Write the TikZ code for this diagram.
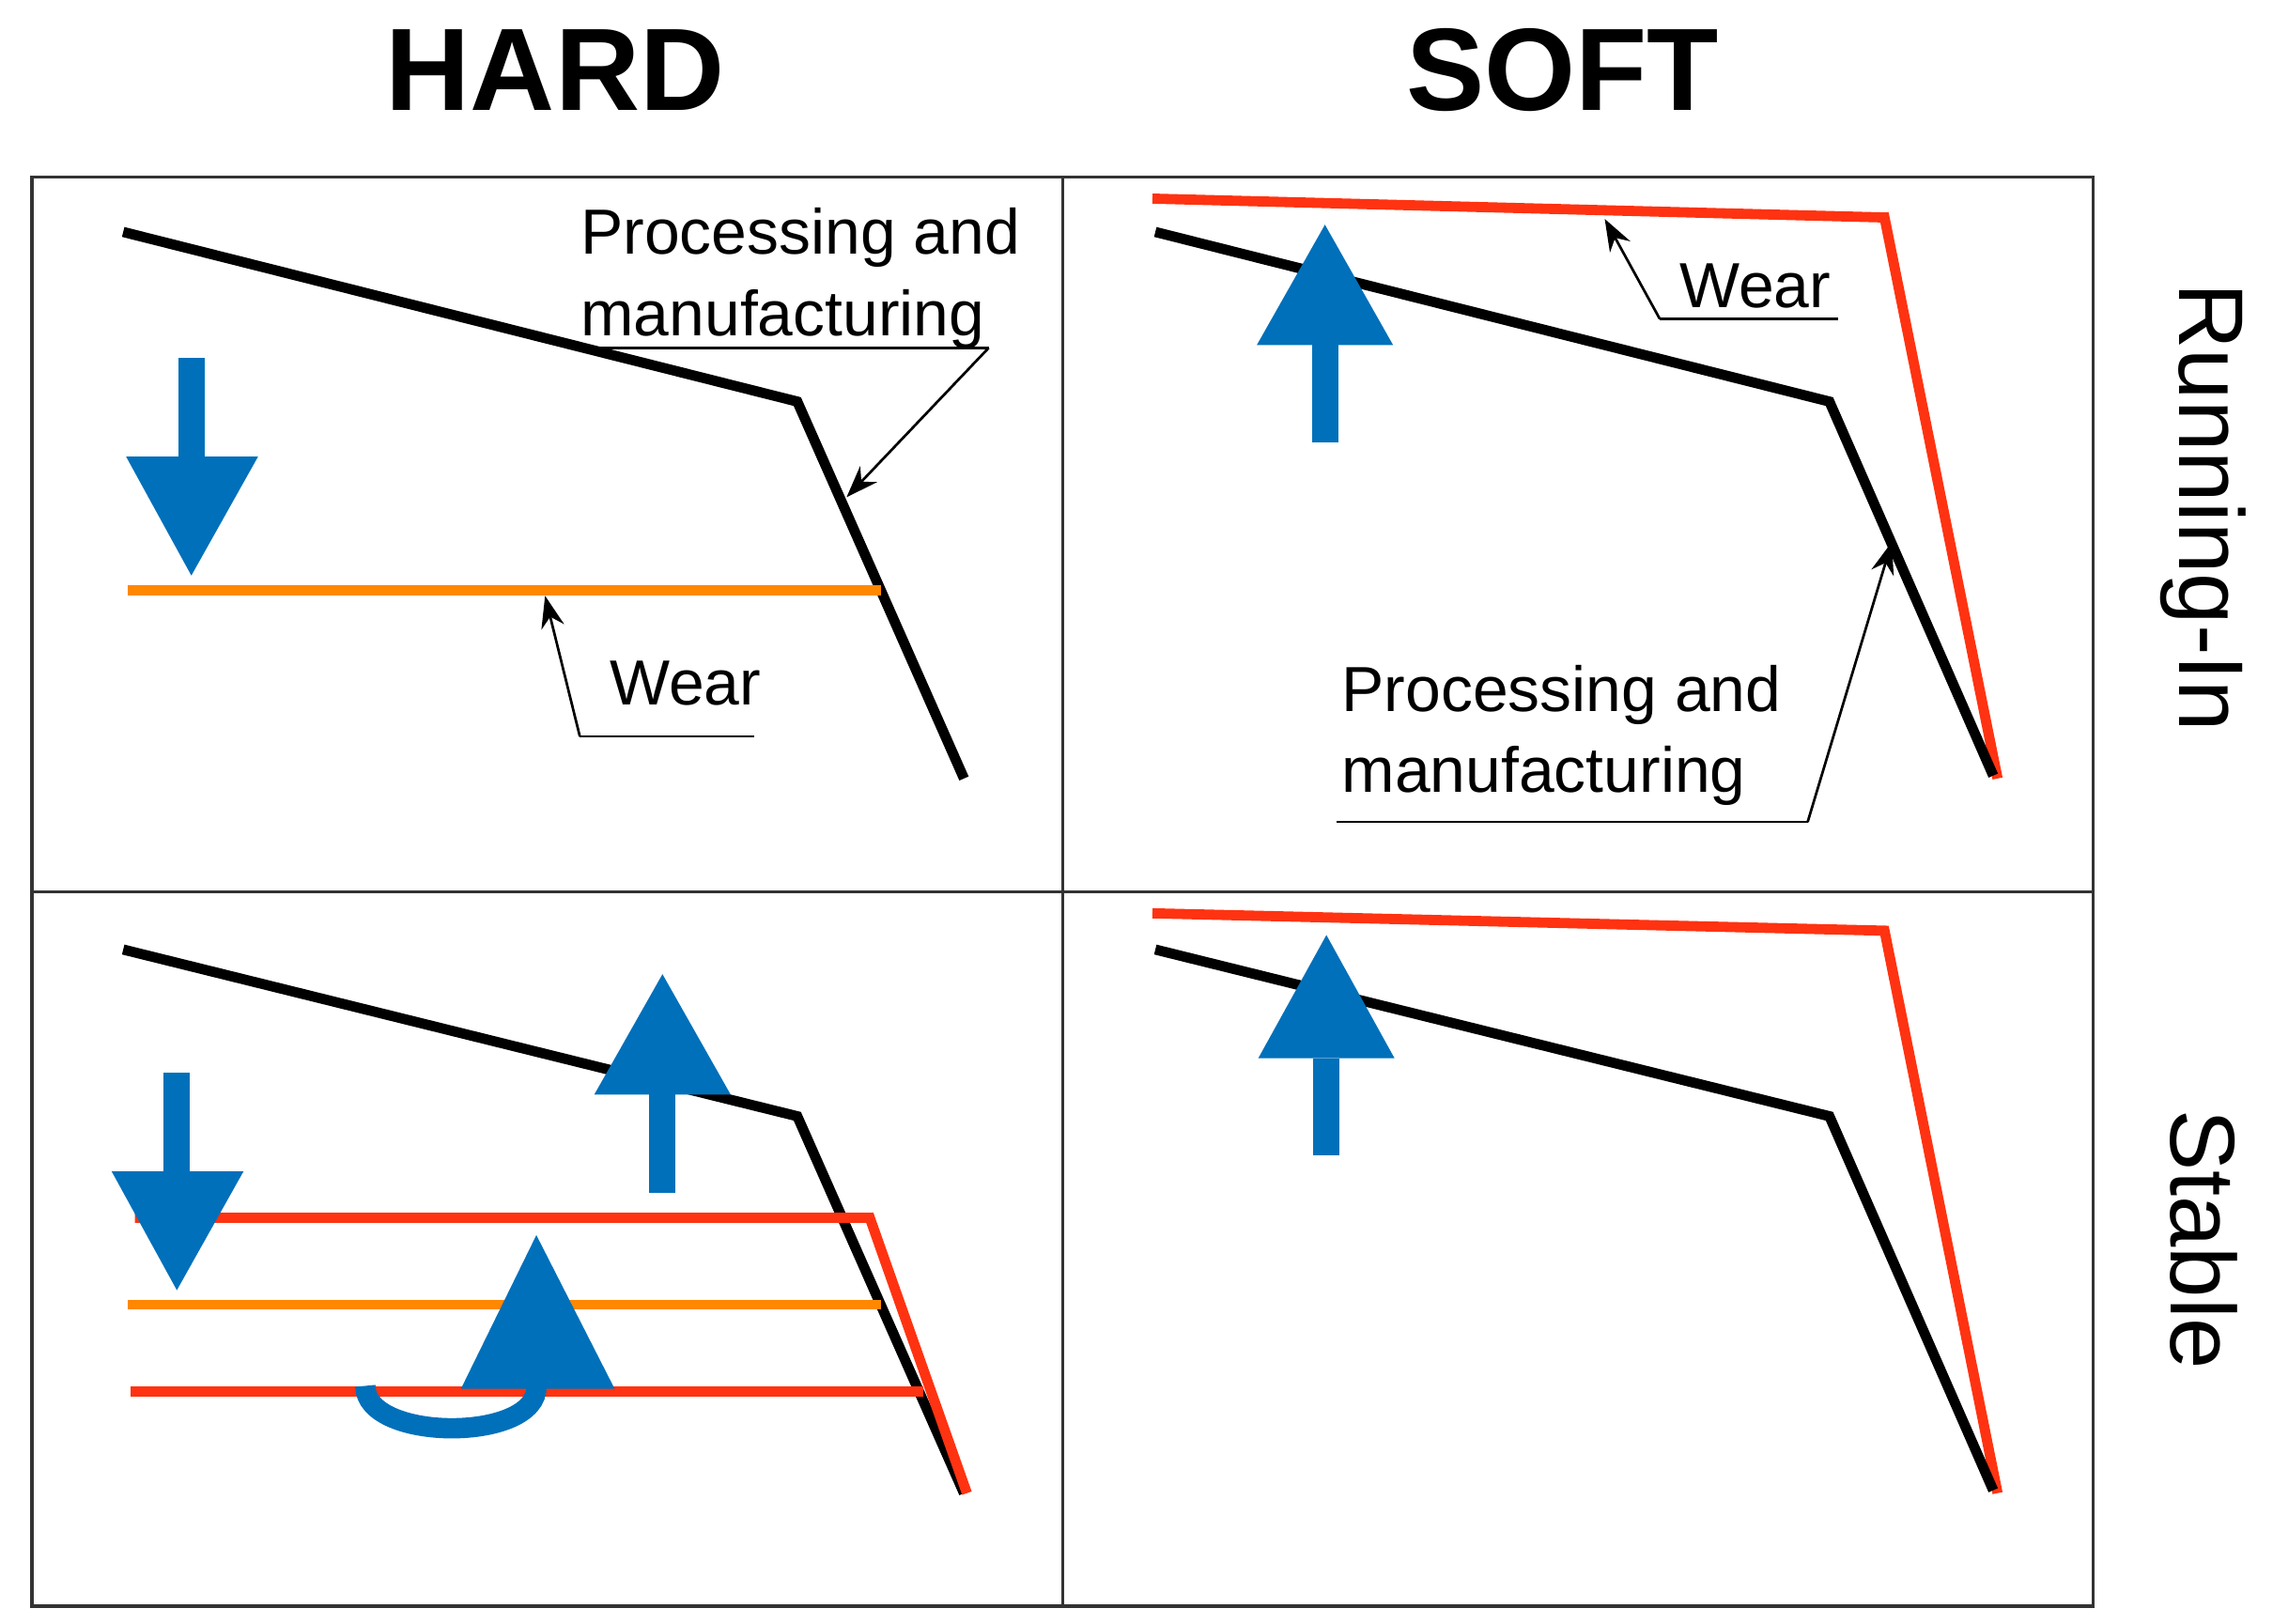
\documentclass[tikz,border=0pt]{standalone}
\usepackage{fontspec}
\setmainfont{Liberation Sans}
\usetikzlibrary{positioning,arrows.meta}
\definecolor{arrowblue}{HTML}{0070BA}
\definecolor{wearred}{HTML}{FF3311}
\definecolor{wearorange}{HTML}{FF8800}
\newcommand{\bigup}[4]{% x, head base y, tip y, shaft end y
\fill[arrowblue] (#1-47,#2) -- (#1+47,#2) -- (#1,#3) -- cycle;
\draw[arrowblue,line width=0.18cm] (#1,#2) -- (#1,#4);}
\begin{document}
\begin{tikzpicture}[x=0.01cm,y=-0.01cm,
profile/.style={line width=0.07cm,line join=miter},
grid/.style={line width=0.6pt,draw=black!80},
leader/.style={line width=0.5pt,-{Stealth[length=2.2mm,width=1.6mm]}},
label/.style={font=\fontsize{12.5}{16}\selectfont,align=left,anchor=north west,inner sep=0pt},
title/.style={font=\fontsize{23}{26}\selectfont\bfseries},
side/.style={font=\fontsize{18}{20}\selectfont,rotate=-90}
]
\useasboundingbox (0,0) rectangle (1568,1120);
% Titles
\node[title] (hard) at (383,48) {HARD};
\node[title] (soft) at (1078,48) {SOFT};
\node[side] (run) at (1520,350) {Running-In};
\node[side] (stab) at (1520,855) {Stable};
% Grid
\draw[grid] (22,122) rectangle (1444,1108);
\draw[grid] (733,122) -- (733,1108);
\draw[grid] (22,615) -- (1444,615);
% Hard, running-in
\draw[profile] (85,160) -- (550,277) -- (665,537);
\draw[profile,wearorange] (88,407) -- (608,407);
\fill[arrowblue] (87,315) -- (178,315) -- (132,397) -- cycle;
\draw[arrowblue,line width=0.18cm] (132,247) -- (132,315);
\node[label] (pm1) at (400,143) {Processing and\\manufacturing};
\coordinate (pm1u) at (682,240);
\coordinate (pm1t) at (584,343);
\draw[line width=0.5pt] (400,240) -- (pm1u);
\draw[leader] (pm1u) -- (pm1t);
\node[label] (w1) at (420,455) {Wear};
\coordinate (w1u) at (400,508);
\coordinate (w1t) at (376,411);
\draw[line width=0.5pt] (520,508) -- (w1u);
\draw[leader] (w1u) -- (w1t);
% Soft, running-in
\draw[profile,wearred] (795,137) -- (1300,150) -- (1378,537);
\draw[profile] (797,160) -- (1262,277) -- (1375,535);
\bigup{914}{238}{155}{305}
\node[label] (w2) at (1158,181) {Wear};
\coordinate (w2u) at (1145,220);
\coordinate (w2t) at (1107,151);
\draw[line width=0.5pt] (1268,220) -- (w2u);
\draw[leader] (w2u) -- (w2t);
\node[label] (pm2) at (925,458) {Processing and\\manufacturing};
\coordinate (pm2u) at (1247,567);
\coordinate (pm2t) at (1305,374);
\draw[line width=0.5pt] (922,567) -- (pm2u);
\draw[leader] (pm2u) -- (pm2t);
% Hard, stable
\draw[profile] (85,655) -- (550,770) -- (665,1030);
\draw[profile,wearred] (93,840) -- (600,840) -- (667,1030);
\draw[profile,wearorange] (88,900) -- (608,900);
\draw[profile,wearred] (90,960) -- (637,960);
\fill[arrowblue] (77,808) -- (168,808) -- (122,890) -- cycle;
\draw[arrowblue,line width=0.18cm] (122,740) -- (122,808);
\bigup{457}{755}{672}{823}
\draw[arrowblue,line width=0.14cm] (370,956) .. controls (372,995) and (252,995) .. (252,956);
\fill[arrowblue] (318,958) -- (424,958) -- (370,852) -- cycle;
% Soft, stable
\draw[profile,wearred] (795,630) -- (1300,642) -- (1378,1030);
\draw[profile] (797,655) -- (1262,770) -- (1375,1028);
\bigup{915}{730}{645}{797}
\end{tikzpicture}
\end{document}
